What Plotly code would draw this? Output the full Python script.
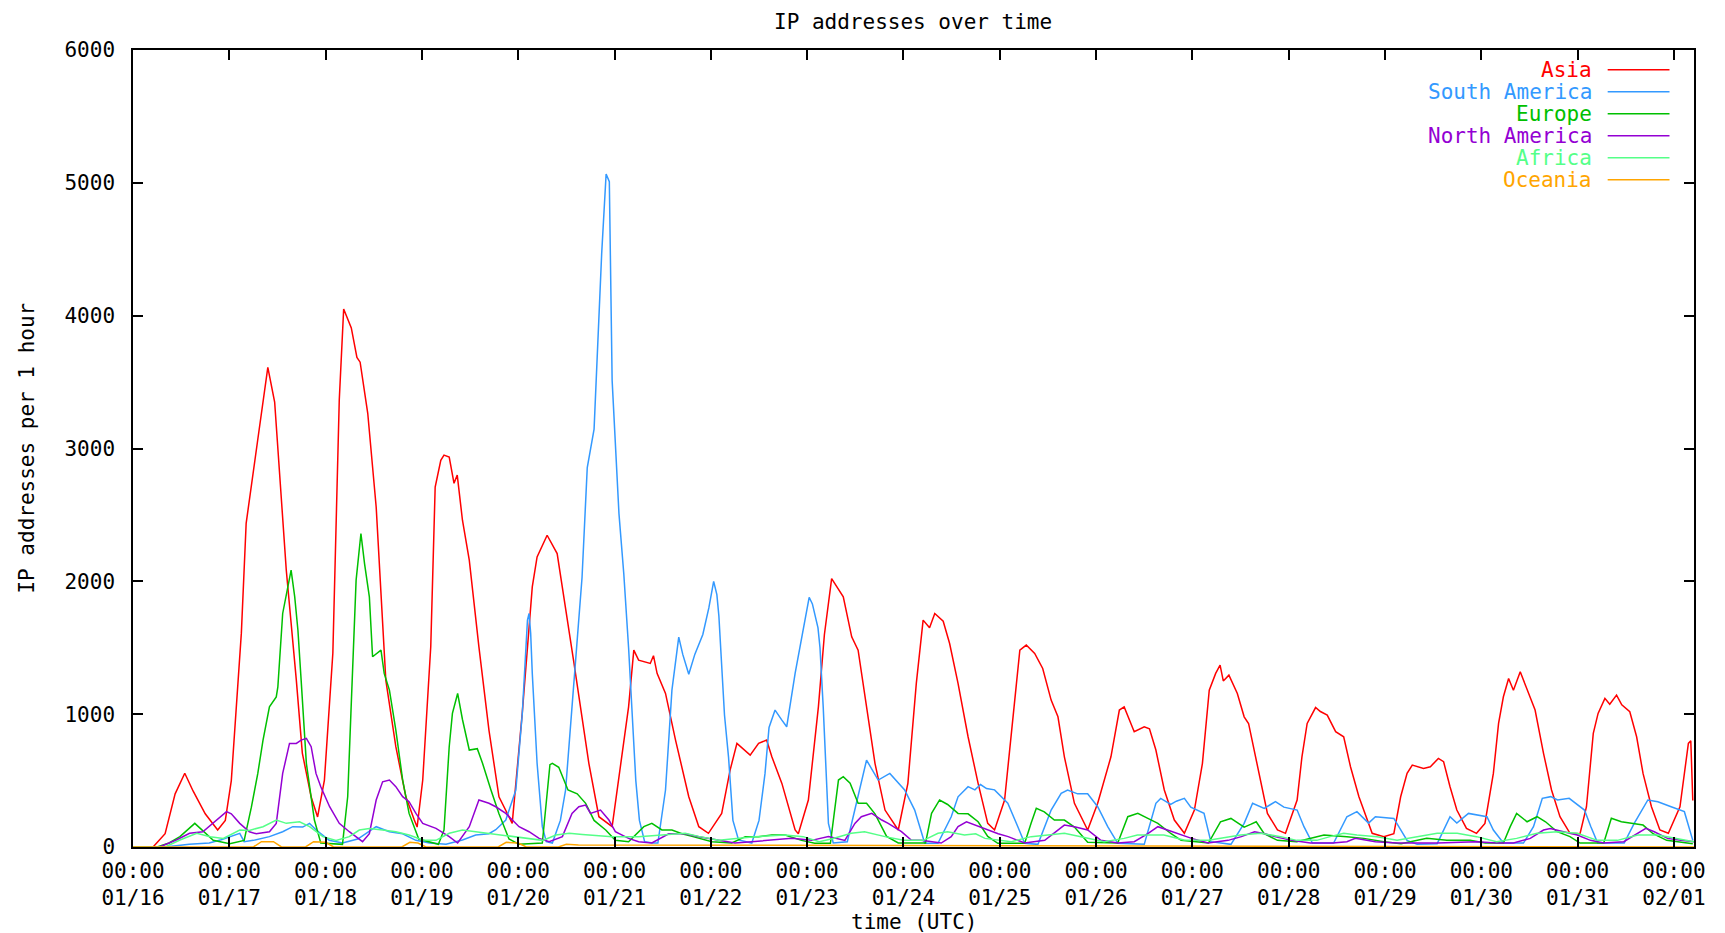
import plotly.graph_objects as go

# ---------------- data (hours since 01/16 00:00 UTC, IP addresses per hour) ----------------
asia_h = [0, 5, 8, 10.5, 12.9, 15, 18, 21.1, 23, 24.5, 27, 28.2, 31, 33.6, 35.3, 38.2, 40.7, 42.2, 44.4, 46,
          47.7, 49.8, 51.4, 52.5, 54.4, 55.8, 56.6, 58.5, 60.6, 63, 65.5, 68, 70.1, 70.8, 72.2, 74.2, 75.3, 76.7,
          77.5, 78.8, 80, 80.8, 82.1, 83.8, 86.2, 88.7, 91.2, 94.5, 97, 99.5, 100.7, 103.2, 105.7, 107.8, 109.9,
          113.6, 116.1, 119.4, 121, 123.5, 124.8, 126, 128.9, 129.7, 130.6, 132.7, 135.2, 138.5, 141, 143.4,
          146.7, 148.8, 150.5, 153.8, 155.9, 157.9, 159.2, 161.7, 165, 165.8, 168.3, 170.8, 172.3, 174.1, 177,
          179.1, 180.7, 182.4, 184.9, 187.4, 190.7, 193.1, 195.2, 196.9, 198.5, 199.8, 201.9, 203.5, 205.6,
          208.1, 210.6, 213, 214.7, 217.2, 219.3, 221, 222.6, 224.7, 226.7, 228.8, 230.5, 232.1, 234.6, 237.9,
          240.4, 243.7, 245.8, 247, 249.5, 252, 253.3, 254.9, 257, 259.5, 262, 264.5, 266.5, 268.2, 269.8,
          270.9, 271.7, 273.1, 275.2, 276.9, 278, 280.2, 282.7, 285.2, 287.2, 290.1, 291.3, 292.6, 294.7,
          295.9, 297.6, 299.7, 301.7, 303.4, 305.5, 308.8, 311.7, 314.2, 315.9, 317.5, 318.8, 321.6, 323.3,
          325.3, 326.6, 328.2, 329.9, 332.3, 334.8, 336.9, 339, 340.3, 341.5, 342.8, 344, 345.7, 347.4, 349.4,
          351.5, 353.5, 355.6, 358.1, 360.6, 362.2, 363.9, 365.1, 366.8, 368, 369.7, 371, 373, 374.7, 376.3,
          378.4, 380.5, 382.6, 385.5, 387.6, 388.2, 388.7]
asia_v = [0, 0, 100, 400, 555, 420, 250, 128, 200, 500, 1610, 2437, 3047, 3610, 3350, 2084, 1256, 707, 376, 226,
          504, 1459, 3363, 4050, 3908, 3685, 3650, 3265, 2560, 1256, 755, 378, 203, 150, 504, 1507, 2710, 2911,
          2950, 2936, 2738, 2800, 2460, 2159, 1507, 880, 378, 178, 1008, 1958, 2184, 2347, 2209, 1808, 1382,
          630, 228, 153, 500, 1055, 1482, 1407, 1382, 1440, 1307, 1156, 805, 378, 153, 103,
          253, 579, 780, 692, 780, 805, 679, 479, 128, 100, 354, 1055, 1600, 2021, 1883,
          1582, 1482, 1131, 630, 278, 128, 479, 1232, 1708, 1650, 1758, 1700, 1532, 1232,
          830, 479, 178, 128, 354, 980, 1482, 1520, 1457, 1344, 1106, 980, 679, 329, 128,
          329, 679, 1031, 1055, 868, 905, 890, 730, 429, 203, 103, 278, 630, 1181, 1307,
          1369, 1250, 1294, 1156, 980, 930, 604, 253, 128, 103, 354, 679, 930, 1050,
          1020, 993, 868, 830, 604, 378, 103, 78, 100, 378, 554, 617, 592, 604,
          667, 642, 454, 278, 140, 103, 178, 554, 930, 1131, 1269, 1180, 1319, 1181, 1031,
          705, 429, 228, 103, 100, 303, 855, 1006, 1119, 1075, 1143, 1070, 1018, 830, 554,
          303, 128, 103, 303, 780, 800, 350]

samerica_h = [0, 8, 14, 19, 22, 26.6, 27.7, 30, 34, 37.3, 39.8, 42.3, 44, 45.6, 48.9, 52.2, 56, 60.6, 63.9,
              67.2, 70.5, 73.9, 78, 82.1, 85.4, 88.7, 90.4, 92.9, 95.4, 96.2, 97, 98.3, 98.7, 99.1, 99.5,
              100.7, 102, 103, 104.5, 106.5, 107.8, 109.4, 111.9, 113.2, 114.9, 116.8, 117.9, 118.7, 119.4,
              121.1, 122.3, 123.5, 124.4, 125.3, 126.2, 127.5, 129.5, 130.8, 132.7, 134.3, 136, 137, 138.5,
              140, 142, 143.5, 144.7, 145.5, 146, 147.4, 148.4, 149.5, 150.9, 154.2, 156, 157.5, 158.5, 160,
              161.7, 162.9, 165, 166.6, 168.5, 169.3, 170.7, 171.2, 172, 173.3, 174.5, 178, 180.7, 182.8,
              185.7, 188.6, 192.3, 194.8, 197.3, 200.6, 203.9, 205.6, 208.1, 209.8, 211.2, 212.7, 214.7, 218,
              220.5, 222.2, 225.5, 228.8, 231.3, 232.9, 235.4, 237.9, 240.4, 242.9, 245.4, 252, 254.9, 256.1,
              258.6, 260, 262, 263.6, 266.9, 268.6, 273.6, 276.9, 279, 281.9, 283.5, 284.7, 286.8, 290.1,
              291.8, 293.9, 299.2, 302.5, 305, 307.9, 309.6, 314.2, 317.5, 320, 325, 328.2, 329.9, 332.8,
              337.4, 339, 341.5, 346.5, 349, 351.2, 353.3, 355, 357.9, 361.7, 363.3, 365, 371.6, 374.1,
              377.5, 380, 383.3, 386.6, 388.7]
samerica_v = [0, 0, 20, 30, 55, 103, 40, 50, 78, 115, 153, 150, 178, 130, 50, 30, 60, 153, 115,
              100, 50, 30, 20, 53, 90, 100, 130, 203, 429, 700, 1000, 1708, 1758, 1608, 1307,
              630, 153, 40, 30, 200, 429, 1055, 2029, 2857, 3146, 4471, 5067, 5009, 3513,
              2510, 2059, 1500, 1006, 500, 200, 40, 30, 30, 429, 1181, 1580, 1450, 1300,
              1450, 1600, 1800, 2000, 1900, 1739, 994, 679, 200, 53, 30, 200, 554, 900, 1031,
              955, 905, 1307, 1557, 1880, 1830, 1650, 1500, 1055, 178, 30, 40, 378, 654,
              504, 554, 429, 278, 28, 28, 228, 378, 454, 430, 470, 440, 430, 329,
              153, 28, 20, 278, 404, 429, 400, 400, 303, 153, 28, 20, 329, 366,
              320, 345, 366, 300, 253, 40, 20, 178, 329, 290, 320, 341, 300, 278,
              153, 30, 30, 228, 266, 180, 228, 215, 50, 20, 25, 228, 180, 253,
              228, 128, 30, 30, 153, 366, 379, 354, 366, 278, 153, 30, 30, 178,
              354, 341, 303, 266, 50]

europe_h = [0, 6, 9, 11.7, 15.4, 17.1, 20, 24.1, 27.7, 29.5, 31.1, 32.4, 34, 35.7, 36.1, 37.3, 38.6, 39.4,
            40.3, 41.1, 41.9, 43.2, 45.2, 46.8, 52.2, 53.5, 54.3, 55.6, 56.8, 57.7, 58.9, 59.7, 61.8, 62.6,
            63.9, 65.5, 67.2, 68.8, 71.2, 76.1, 77.5, 78.8, 79.6, 80.9, 82.1, 83.8, 85.8, 87.1, 89.2, 91.2,
            93.7, 96.2, 102, 103.2, 103.9, 104.5, 106.1, 108.4, 110.7, 112.8, 114.9, 117.8, 120.2, 123.5,
            127.3, 129.3, 131.8, 134.3, 136.8, 139.3, 144.3, 149.2, 152.6, 155.9, 159.2, 162.5, 166.6, 169.9,
            173.8, 175.8, 177, 178.7, 180.7, 182.8, 184.9, 187.8, 190.7, 197.5, 199, 201, 203, 205.6, 208.1,
            210.6, 213, 215.5, 222.2, 223.8, 225.1, 227.1, 229.6, 232.1, 234.6, 237.9, 245.4, 247.9, 250.4,
            252.9, 255.4, 258.7, 261.2, 268, 271, 273.6, 276.9, 278.5, 279.9, 281.9, 285.2, 290, 295, 296.8,
            302.5, 306.7, 311.7, 316, 322.4, 327.4, 333.2, 337, 341.5, 343.2, 344.8, 347.4, 349.9, 352, 354.9,
            358.1, 360.6, 366.5, 368.4, 370.9, 373.4, 376.3, 378.8, 382.2, 388.7]
europe_v = [0, 0, 30, 78, 178, 130, 50, 25, 50, 300, 554, 805, 1055, 1130, 1206, 1758, 1958, 2084,
            1883, 1632, 1256, 630, 203, 30, 20, 378, 1006, 2009, 2360, 2134, 1883, 1432, 1482, 1307,
            1181, 880, 504, 253, 60, 20, 128, 755, 1006, 1156, 960, 730, 740, 630, 429, 250,
            60, 20, 30, 378, 620, 630, 600, 429, 400, 329, 200, 128, 50, 40,
            153, 178, 128, 128, 100, 80, 40, 30, 78, 78, 90, 90, 50, 28,
            28, 504, 529, 480, 329, 329, 250, 80, 30, 30, 253, 354, 320, 253, 250,
            190, 80, 28, 28, 178, 291, 265, 203, 203, 150, 35, 30, 228, 253,
            215, 178, 100, 50, 30, 190, 215, 150, 170, 190, 100, 50, 40, 78, 90,
            78, 65, 40, 25, 65, 50, 50, 30, 30, 153, 253, 190, 228, 190, 115,
            78, 30, 30, 216, 190, 178, 165, 100, 50, 25]

namerica_h = [0, 6.6, 10.8, 14.1, 17.4, 19.9, 23.3, 24.5, 26.6, 29, 30.7, 34, 35.7, 37.3, 39, 40.7, 41.9,
              43.2, 44.4, 45.6, 46.8, 49, 51.4, 53.9, 57.2, 58.9, 60.6, 62.2, 63.9, 65.5, 67.2, 68.8, 70.5,
              72.2, 75.5, 78.8, 80.9, 83.8, 86.2, 88.7, 90.4, 92.9, 96.2, 98.7, 101.2, 103.7, 107, 109.4,
              111.1, 112.8, 114, 116.5, 118.6, 120.2, 123.5, 126, 129.3, 133.5, 137.6, 141, 146, 150, 154.2,
              159.2, 164.2, 169.1, 173.3, 177.4, 179.9, 181.5, 184.1, 186.6, 188.2, 191.5, 194, 196.4, 201.4,
              203.9, 205.6, 207.7, 209.8, 212.3, 215.6, 218.1, 222.2, 227.2, 230.5, 232.1, 234.6, 237.9,
              241.2, 245.4, 249.5, 252.9, 255.4, 257.9, 260.4, 263.8, 267.9, 272.9, 276.2, 279.5, 282, 284.5,
              288.7, 293.4, 299, 302.5, 304.6, 309.6, 315, 325, 334.8, 339.8, 344, 348.2, 351.5, 353.2,
              356.5, 359.9, 363.2, 366.5, 371.5, 374.9, 377, 379.1, 382.4, 385.7, 389]
namerica_v = [0, 0, 53, 103, 115, 178, 266, 250, 178, 115, 100, 115, 178, 554, 780, 780, 805,
              818, 755, 554, 454, 303, 178, 115, 40, 100, 354, 491, 504, 454, 379, 341, 253,
              178, 140, 78, 30, 153, 354, 329, 303, 253, 153, 115, 65, 40, 78, 253,
              303, 316, 253, 278, 203, 115, 65, 40, 30, 100, 100, 78, 50, 30, 40,
              50, 65, 50, 78, 50, 178, 228, 253, 203, 178, 115, 50, 50, 30,
              78, 153, 190, 165, 140, 100, 78, 30, 50, 128, 165, 153, 128,
              50, 30, 40, 100, 153, 128, 100, 65, 30, 50, 78, 115, 100, 78,
              50, 30, 30, 40, 65, 40, 30, 30, 40, 30, 30, 65, 128, 140,
              115, 90, 50, 30, 40, 100, 140, 115, 65, 50, 40]

africa_h = [0, 8, 11.7, 15.9, 19.2, 22.5, 26.6, 29, 32.4, 35.7, 38.2, 41.5, 44, 47.3, 50.6, 53.9, 56.4, 58.9,
            62.2, 65.5, 68.8, 72.2, 75.5, 78.8, 82.1, 85.4, 88.7, 92.1, 95.4, 102.1, 105.4, 108.7, 112, 119.4,
            126, 131, 137.6, 141, 146, 151, 155, 162.5, 167, 171, 174, 179, 182.3, 187.4, 192, 197, 200.6,
            203, 207.2, 210, 212.3, 218.9, 223.8, 228, 232.1, 236.2, 242, 247, 250.3, 256.9, 261.9, 268, 276,
            281, 286, 290, 295, 298.3, 301.7, 305, 310, 315, 320, 325, 330, 334.8, 339.8, 344.8, 349.9, 354.9,
            359.9, 364.9, 369.9, 375, 380, 385, 389]
africa_v = [0, 0, 53, 103, 78, 65, 128, 125, 153, 203, 178, 190, 153, 78, 50, 78, 128, 140,
            128, 115, 90, 53, 50, 103, 128, 115, 103, 90, 78, 50, 90, 103, 95, 78,
            78, 90, 103, 80, 50, 65, 78, 90, 78, 40, 60, 103, 115, 78, 50, 50, 103,
            115, 90, 100, 65, 40, 78, 90, 103, 78, 40, 65, 90, 90, 53, 50, 90,
            103, 78, 50, 50, 78, 103, 90, 78, 50, 78, 103, 103, 78, 40, 65, 103, 115,
            103, 50, 50, 90, 90, 65, 40]

oceania_h = [0, 30, 32, 35, 37, 43, 45, 48, 50, 67, 69, 71, 73, 91, 93, 96, 98, 106, 108, 111, 389]
oceania_v = [0, 0, 40, 40, 0, 0, 40, 35, 0, 0, 35, 30, 0, 0, 35, 30, 0, 0, 20, 15, 0]

series_names = ["Asia", "South America", "Europe", "North America", "Africa", "Oceania"]
series_colors = ["#ff0000", "#3399ff", "#00c000", "#9400d3", "#55ff88", "#ffa500"]
series_hours = [asia_h, samerica_h, europe_h, namerica_h, africa_h, oceania_h]
series_values = [asia_v, samerica_v, europe_v, namerica_v, africa_v, oceania_v]

day_labels = ["01/16", "01/17", "01/18", "01/19", "01/20", "01/21", "01/22", "01/23", "01/24",
              "01/25", "01/26", "01/27", "01/28", "01/29", "01/30", "01/31", "02/01"]
y_ticks = [0, 1000, 2000, 3000, 4000, 5000, 6000]

FONT = "DejaVu Sans Mono"
FS = 21

fig = go.Figure()
for name, color, hx, vy in zip(series_names, series_colors, series_hours, series_values):
    fig.add_trace(go.Scatter(x=hx, y=vy, mode="lines", name=name,
                             line=dict(color=color, width=1.5), showlegend=False))

# gnuplot-style legend: right-aligned coloured text with a line sample to its right
for i, (name, color) in enumerate(zip(series_names, series_colors)):
    yp = 0.9752 - i * 0.0276
    fig.add_annotation(x=0.936, y=yp, xref="paper", yref="paper", text=name, showarrow=False,
                       xanchor="right", yanchor="middle", font=dict(family=FONT, size=FS, color=color))
    fig.add_shape(type="line", xref="paper", yref="paper", x0=0.9447, x1=0.9843, y0=yp, y1=yp,
                  line=dict(color=color, width=1.5))

fig.add_annotation(x=0.5, y=-0.094, xref="paper", yref="paper", text="time (UTC)", showarrow=False,
                   xanchor="center", yanchor="middle", font=dict(family=FONT, size=FS, color="black"))
fig.add_annotation(x=-0.0685, y=0.5, xref="paper", yref="paper", text="IP addresses per 1 hour",
                   showarrow=False, textangle=-90, xanchor="center", yanchor="middle",
                   font=dict(family=FONT, size=FS, color="black"))

fig.update_layout(
    width=1709, height=933,
    margin=dict(l=125, r=19, t=42, b=94),
    paper_bgcolor="white", plot_bgcolor="white",
    title=dict(text="IP addresses over time", x=0.5296, xanchor="center", xref="container",
               y=0.993, yref="container", yanchor="top", pad=dict(t=0, b=0),
               font=dict(family=FONT, size=FS, color="black")),
    font=dict(family=FONT, size=FS, color="black"),
)
fig.update_xaxes(range=[0, 389], tickmode="array", tickvals=[24 * i for i in range(len(day_labels))],
                 ticktext=["00:00<br>" + d for d in day_labels], ticks="inside", ticklen=10,
                 tickcolor="black", tickwidth=1.5, showline=True, linecolor="black", linewidth=1.5,
                 mirror="ticks", showgrid=False, zeroline=False, ticklabelstandoff=4,
                 tickfont=dict(family=FONT, size=FS, color="black"))
fig.update_yaxes(range=[0, 6000], tickmode="array", tickvals=y_ticks, ticks="inside", ticklen=10,
                 tickcolor="black", tickwidth=1.5, showline=True, linecolor="black", linewidth=1.5,
                 mirror="ticks", showgrid=False, zeroline=False, ticklabelstandoff=12,
                 tickfont=dict(family=FONT, size=FS, color="black"))

fig.write_html("out.html")
